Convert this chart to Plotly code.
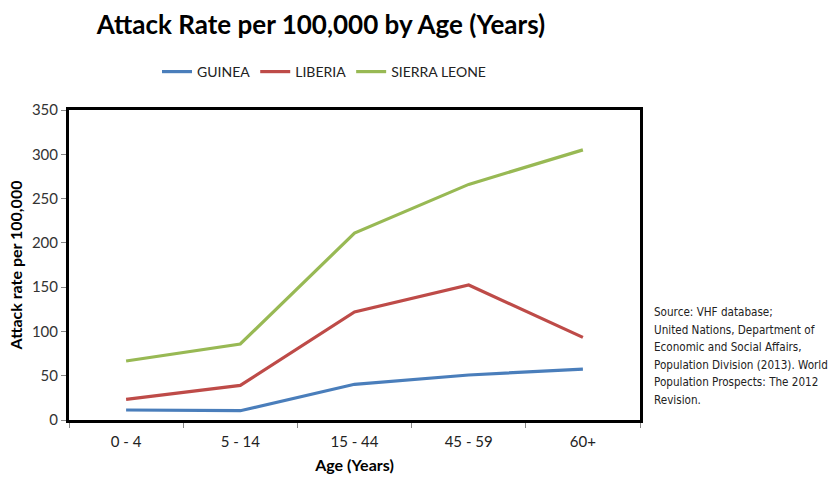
import plotly.graph_objects as go

categories = ["0 - 4", "5 - 14", "15 - 44", "45 - 59", "60+"]
guinea = [11.3, 10.5, 40.3, 50.8, 57.5]
liberia = [23.3, 39.0, 122.0, 152.5, 93.3]
sierra_leone = [66.6, 85.8, 211.0, 266.0, 305.0]
series_names = ["GUINEA", "LIBERIA", "SIERRA LEONE"]
colors = ["#4A7EBB", "#BE4B48", "#98B954"]
y_ticks = [0, 50, 100, 150, 200, 250, 300, 350]
source_lines = [
    "Source: VHF database;",
    "United Nations, Department of",
    "Economic and Social Affairs,",
    "Population Division (2013). World",
    "Population Prospects: The 2012",
    "Revision.",
]

FONT = "Lato"
NARROW = "DejaVu Sans Condensed, Lato"

fig = go.Figure()
for name, vals, col in zip(series_names, [guinea, liberia, sierra_leone], colors):
    fig.add_trace(go.Scatter(x=categories, y=vals, mode="lines", name=name,
                             line=dict(color=col, width=3.2)))

fig.update_layout(
    width=829, height=482,
    margin=dict(l=69, r=189, t=110, b=62),
    paper_bgcolor="white", plot_bgcolor="white",
    font=dict(family=FONT, color="#222222"),
    title=dict(text="<b>Attack Rate per 100,000 by Age (Years)</b>",
               x=321 / 829, xanchor="center", xref="container",
               y=1 - 25 / 482, yanchor="middle", yref="container",
               font=dict(size=26, color="black", family=FONT)),
    legend=dict(orientation="h", x=324 / 829, xanchor="center",
                xref="container", y=1 - 72 / 482, yref="container", yanchor="middle",
                font=dict(size=14, color="#222222"), itemwidth=30,
                traceorder="normal"),
    showlegend=True,
)

fig.update_xaxes(
    type="category", tickson="boundaries", ticks="outside", ticklen=5,
    tickcolor="#888888", showline=True, linecolor="black", linewidth=3,
    mirror=True, showgrid=False, tickfont=dict(size=15, color="#222222"),
    ticklabelstandoff=6, automargin=False,
    title=dict(text="<b>Age (Years)</b>", font=dict(size=16, color="black"),
               standoff=11),
    range=[-0.5, 4.5],
)
fig.update_yaxes(
    range=[0, 350], tickvals=y_ticks, ticks="outside", ticklen=5,
    tickcolor="#888888", showline=True, linecolor="black", linewidth=3,
    mirror=True, showgrid=False, zeroline=False, automargin=False,
    tickfont=dict(size=15, color="#333333"),
    title=dict(text="<b>Attack rate per 100,000</b>",
               font=dict(size=16, color="black"), standoff=6),
)

for i, line in enumerate(source_lines):
    yc = 312 + i * 17.5
    fig.add_annotation(
        text=line, xref="paper", yref="paper",
        x=(652 - 69) / (640 - 69), y=(420 - yc) / 310,
        xanchor="left", yanchor="middle", align="left", showarrow=False,
        font=dict(size=11.6, color="#222222", family=NARROW),
    )

fig.write_html("out.html")
